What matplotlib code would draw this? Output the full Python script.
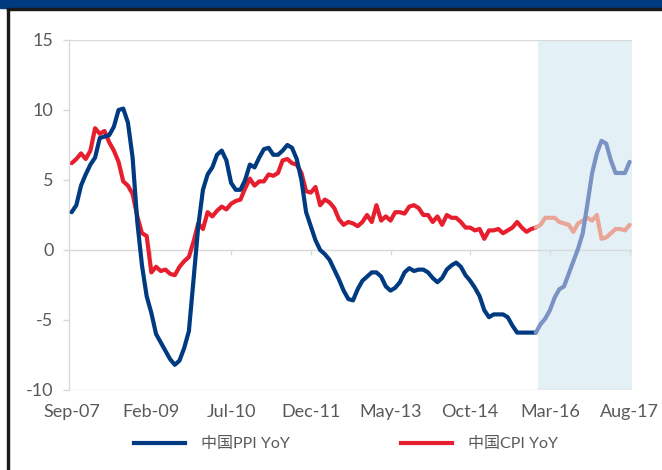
import matplotlib
matplotlib.use('Agg')
import matplotlib.pyplot as plt
import numpy as np
from matplotlib.lines import Line2D
from matplotlib.patches import Rectangle

plt.rcParams['font.family'] = ['Lato', 'Noto Sans CJK SC', 'DejaVu Sans']

# Monthly data, Sep-2007 .. Aug-2017
ppi = [2.7, 3.2, 4.6, 5.4,
       6.1, 6.6, 8.0, 8.1, 8.2, 8.8, 10.0, 10.1, 9.1, 6.6, 2.0, -1.1,
       -3.3, -4.5, -6.0, -6.6, -7.2, -7.8, -8.2, -7.9, -7.0, -5.8, -2.1, 1.7,
       4.3, 5.4, 5.9, 6.8, 7.1, 6.4, 4.8, 4.3, 4.3, 5.0, 6.1, 5.9,
       6.6, 7.2, 7.3, 6.8, 6.8, 7.1, 7.5, 7.3, 6.5, 5.0, 2.7, 1.7,
       0.7, 0.0, -0.3, -0.7, -1.4, -2.1, -2.9, -3.5, -3.6, -2.8, -2.2, -1.9,
       -1.6, -1.6, -1.9, -2.6, -2.9, -2.7, -2.3, -1.6, -1.3, -1.5, -1.4, -1.4,
       -1.6, -2.0, -2.3, -2.0, -1.4, -1.1, -0.9, -1.2, -1.8, -2.2, -2.7, -3.3,
       -4.3, -4.8, -4.6, -4.6, -4.6, -4.8, -5.4, -5.9, -5.9, -5.9, -5.9, -5.9,
       -5.3, -4.9, -4.3, -3.4, -2.8, -2.6, -1.7, -0.8, 0.1, 1.2, 3.3, 5.5,
       6.9, 7.8, 7.6, 6.4, 5.5, 5.5, 5.5, 6.3]
cpi = [6.2, 6.5, 6.9, 6.5,
       7.1, 8.7, 8.3, 8.5, 7.7, 7.1, 6.3, 4.9, 4.6, 4.0, 2.4, 1.2,
       1.0, -1.6, -1.2, -1.5, -1.4, -1.7, -1.8, -1.2, -0.8, -0.5, 0.6, 1.9,
       1.5, 2.7, 2.4, 2.8, 3.1, 2.9, 3.3, 3.5, 3.6, 4.4, 5.1, 4.6,
       4.9, 4.9, 5.4, 5.3, 5.5, 6.4, 6.5, 6.2, 6.1, 5.5, 4.2, 4.1,
       4.5, 3.2, 3.6, 3.4, 3.0, 2.2, 1.8, 2.0, 1.9, 1.7, 2.0, 2.5,
       2.0, 3.2, 2.1, 2.4, 2.1, 2.7, 2.7, 2.6, 3.1, 3.2, 3.0, 2.5,
       2.5, 2.0, 2.4, 1.8, 2.5, 2.3, 2.3, 2.0, 1.6, 1.6, 1.4, 1.5,
       0.8, 1.4, 1.4, 1.5, 1.2, 1.4, 1.6, 2.0, 1.6, 1.3, 1.5, 1.6,
       1.8, 2.3, 2.3, 2.3, 2.0, 1.9, 1.8, 1.3, 1.9, 2.1, 2.3, 2.1,
       2.5, 0.8, 0.9, 1.2, 1.5, 1.5, 1.4, 1.8]
tick_labels = ['Sep-07', 'Feb-09', 'Jul-10', 'Dec-11', 'May-13', 'Oct-14', 'Mar-16', 'Aug-17']
tick_step = 17
forecast_idx = 99          # last "actual" point; lighter afterwards
yticks = [-10, -5, 0, 5, 10, 15]
series_names = ['中国PPI YoY', '中国CPI YoY']

dark_blue = '#003a80'
light_blue = '#7a93c4'
dark_red = '#e61e2d'
light_red = '#e9a595'
shade = '#e3f1f6'
grid = '#d9d9d9'
txt = '#595959'

fig = plt.figure(figsize=(6.62, 4.70), dpi=100)
ax = fig.add_axes([69.3/662, 1-390/470, (632-69.3)/662, 350/470])

n = len(ppi)
x = np.arange(n)
ax.set_xlim(-0.5, n - 0.5)
ax.set_ylim(-10, 15)

ax.axvspan(forecast_idx + 0.5, n - 0.5, color=shade, zorder=0, lw=0)
for yv in (15, 0, -10):
    ax.axhline(yv, color=grid, lw=1, zorder=1)
ax.vlines(np.arange(tick_step, n + 1, tick_step), 0, -0.38, color=grid, lw=1, zorder=1)

ax.plot(x[:forecast_idx + 1], ppi[:forecast_idx + 1], color=dark_blue, lw=3, zorder=3, solid_capstyle='round')
ax.plot(x[forecast_idx:], ppi[forecast_idx:], color=light_blue, lw=3, zorder=3, solid_capstyle='round')
ax.plot(x[:forecast_idx + 1], cpi[:forecast_idx + 1], color=dark_red, lw=3, zorder=2, solid_capstyle='round')
ax.plot(x[forecast_idx:], cpi[forecast_idx:], color=light_red, lw=3, zorder=2, solid_capstyle='round')

for s in ['top', 'right', 'bottom']:
    ax.spines[s].set_visible(False)
ax.spines['left'].set_color(grid)
ax.spines['left'].set_linewidth(1)

ax.set_yticks(yticks)
ax.set_yticklabels([str(v) for v in yticks])
ax.tick_params(axis='y', length=4.3, width=1, color=grid, pad=7, labelsize=13, labelcolor=txt)
ax.set_xticks(np.arange(0, n, tick_step))
ax.set_xticklabels(tick_labels)
ax.tick_params(axis='x', length=0, pad=10, labelsize=13, labelcolor=txt)

handles = [Line2D([], [], color=dark_blue, lw=3), Line2D([], [], color=dark_red, lw=3)]
fig.legend(handles, series_names, loc='center', bbox_to_anchor=(346/662, 1-444/470), ncol=2,
           frameon=False, fontsize=11.5, labelcolor=txt, handlelength=3.2, handletextpad=1.0,
           columnspacing=6.9)

# header band and frame lines
fig.patches.append(Rectangle((0, 1-8/470), 1, 8/470, transform=fig.transFigure, color='#003a80', zorder=0))
fig.patches.append(Rectangle((7/662, 1-10/470), 1, 2/470, transform=fig.transFigure, color='#1a1a1a', zorder=0))
fig.patches.append(Rectangle((7/662, 0), 2/662, 1-8/470, transform=fig.transFigure, color='#1a1a1a', zorder=0))

fig.savefig('out.png', dpi=100)
